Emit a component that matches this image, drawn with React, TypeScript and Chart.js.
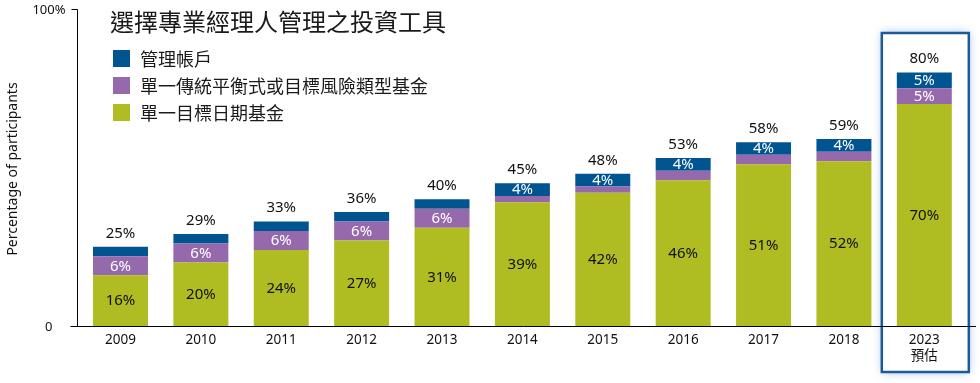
import React, { useEffect, useRef } from 'react';
import { Chart, registerables } from 'chart.js';

Chart.register(...registerables);

const categories: (string | string[])[] = ['2009', '2010', '2011', '2012', '2013', '2014', '2015', '2016', '2017', '2018', ['2023', '預估']];
const targetDateFund = [16, 20, 24, 27, 31, 39, 42, 46, 51, 52, 70];
const balancedRiskFund = [6, 6, 6, 6, 6, 2, 2, 3, 3, 3, 5];
const managedAccount = [3, 3, 3, 3, 3, 4, 4, 4, 4, 4, 5];
const totals = [25, 29, 33, 36, 40, 45, 48, 53, 58, 59, 80];
const yTickValues = [0, 100];
const yTickLabels = ['0', '100%'];
const seriesNames = ['管理帳戶', '單一傳統平衡式或目標風險類型基金', '單一目標日期基金'];
const chartTitle = '選擇專業經理人管理之投資工具';
const yAxisTitle = 'Percentage of participants';
const highlightIndex = 10;
const minSegmentLabel = 4;

const GREEN = '#afbc22';
const PURPLE = '#9669ad';
const BLUE = '#005490';
const LATIN = '"Noto Sans", "Noto Sans CJK TC", sans-serif';
const CJK = '"Noto Sans CJK TC", "Noto Sans", sans-serif';

const overlayPlugin = {
  id: 'overlay',
  beforeDatasetsDraw(chart: any) {
    const ctx = chart.ctx as CanvasRenderingContext2D;
    const x = chart.scales.x;
    const cx = x.getPixelForValue(highlightIndex);
    const l = cx - 42.5, t = 33, w = 87, h = 339;
    ctx.save();
    ctx.shadowColor = 'rgba(60,130,210,0.55)';
    ctx.shadowBlur = 9;
    ctx.fillStyle = '#ffffff';
    ctx.fillRect(l, t, w, h);
    ctx.shadowBlur = 0;
    ctx.shadowColor = 'transparent';
    ctx.strokeStyle = '#1d5a98';
    ctx.lineWidth = 2.5;
    ctx.strokeRect(l, t, w, h);
    ctx.restore();
  },
  afterDatasetsDraw(chart: any) {
    const ctx = chart.ctx as CanvasRenderingContext2D;
    const x = chart.scales.x;
    const y = chart.scales.y;
    const area = chart.chartArea;
    ctx.save();

    // axes
    const y0 = Math.round(y.getPixelForValue(0)) + 0.5;
    const yTop = Math.round(y.getPixelForValue(100)) + 0.5;
    const ax = Math.round(area.left - 3.3) + 0.5;
    ctx.strokeStyle = '#000';
    ctx.lineWidth = 1;
    ctx.beginPath();
    ctx.moveTo(ax, yTop);
    ctx.lineTo(ax, y0);
    ctx.moveTo(ax - 6, yTop);
    ctx.lineTo(ax, yTop);
    ctx.moveTo(ax - 7, y0);
    ctx.lineTo(chart.width - 4, y0);
    ctx.stroke();

    // y tick labels
    ctx.fillStyle = '#111';
    ctx.font = `13px ${LATIN}`;
    ctx.textBaseline = 'middle';
    ctx.textAlign = 'right';
    yTickValues.forEach((v, i) => {
      const py = y.getPixelForValue(v);
      const rx = v === 0 ? ax - 25 : ax - 12;
      ctx.fillText(yTickLabels[i], rx, py + 1);
    });

    // y title
    ctx.save();
    ctx.translate(13, (yTop + y0) / 2 + 1);
    ctx.rotate(-Math.PI / 2);
    ctx.textAlign = 'center';
    ctx.textBaseline = 'middle';
    ctx.font = `14px ${LATIN}`;
    ctx.fillText(yAxisTitle, 0, 0);
    ctx.restore();

    // x labels
    ctx.textAlign = 'center';
    ctx.textBaseline = 'middle';
    ctx.font = `13.5px ${LATIN}`;
    categories.forEach((c, i) => {
      const px = x.getPixelForValue(i);
      const lines = Array.isArray(c) ? c : [c];
      lines.forEach((ln, k) => {
        ctx.fillText(ln, px, 340 + k * 16);
      });
    });

    // segment labels
    ctx.font = `15px ${LATIN}`;
    chart.data.datasets.forEach((ds: any, d: number) => {
      const meta = chart.getDatasetMeta(d);
      meta.data.forEach((el: any, j: number) => {
        const v = ds.data[j];
        if (d > 0 && v < minSegmentLabel) return;
        const p = el.getProps(['x', 'y', 'base'], true);
        ctx.fillStyle = d === 0 ? '#111' : '#ffffff';
        ctx.fillText(`${v}%`, p.x, (p.y + p.base) / 2 + 0.5);
      });
    });

    // totals
    const topMeta = chart.getDatasetMeta(chart.data.datasets.length - 1);
    ctx.fillStyle = '#111';
    topMeta.data.forEach((el: any, j: number) => {
      const p = el.getProps(['x', 'y'], true);
      ctx.fillText(`${totals[j]}%`, p.x, p.y - 13.5);
    });

    // title
    ctx.textAlign = 'left';
    ctx.textBaseline = 'middle';
    ctx.fillStyle = '#1a1a1a';
    ctx.font = `24px ${CJK}`;
    ctx.fillText(chartTitle, 110, 22);

    // legend
    const legendColors = [BLUE, PURPLE, GREEN];
    const rows = [58.5, 85.5, 112.5];
    ctx.font = `18px ${CJK}`;
    seriesNames.forEach((name, i) => {
      ctx.fillStyle = legendColors[i];
      ctx.fillRect(113, rows[i] - 8.5, 17, 17);
      ctx.fillStyle = '#1a1a1a';
      ctx.fillText(name, 140, rows[i] + 0.5);
    });

    ctx.restore();
  },
};

export default function App() {
  const ref = useRef<HTMLCanvasElement | null>(null);

  useEffect(() => {
    document.body.style.margin = '0';
    const canvas = ref.current;
    if (!canvas) return;
    const chart = new Chart(canvas, {
      type: 'bar',
      data: {
        labels: categories as any,
        datasets: [
          { label: seriesNames[2], data: targetDateFund, backgroundColor: GREEN, borderWidth: 0 },
          { label: seriesNames[1], data: balancedRiskFund, backgroundColor: PURPLE, borderWidth: 0 },
          { label: seriesNames[0], data: managedAccount, backgroundColor: BLUE, borderWidth: 0 },
        ],
      },
      options: {
        responsive: false,
        animation: false,
        devicePixelRatio: 1,
        layout: { padding: { left: 80.3, right: 15.5, top: 9, bottom: 57 } },
        datasets: { bar: { barPercentage: 0.684, categoryPercentage: 1 } },
        scales: {
          x: { stacked: true, display: false },
          y: { stacked: true, display: false, min: 0, max: 100 },
        },
        plugins: {
          legend: { display: false },
          tooltip: { enabled: false },
          title: { display: false },
        },
      },
      plugins: [overlayPlugin],
    });
    return () => chart.destroy();
  }, []);

  return (
    <div style={{ width: 980, height: 383, background: '#fff' }}>
      <canvas ref={ref} width={980} height={383} style={{ display: 'block', width: 980, height: 383 }} />
    </div>
  );
}
